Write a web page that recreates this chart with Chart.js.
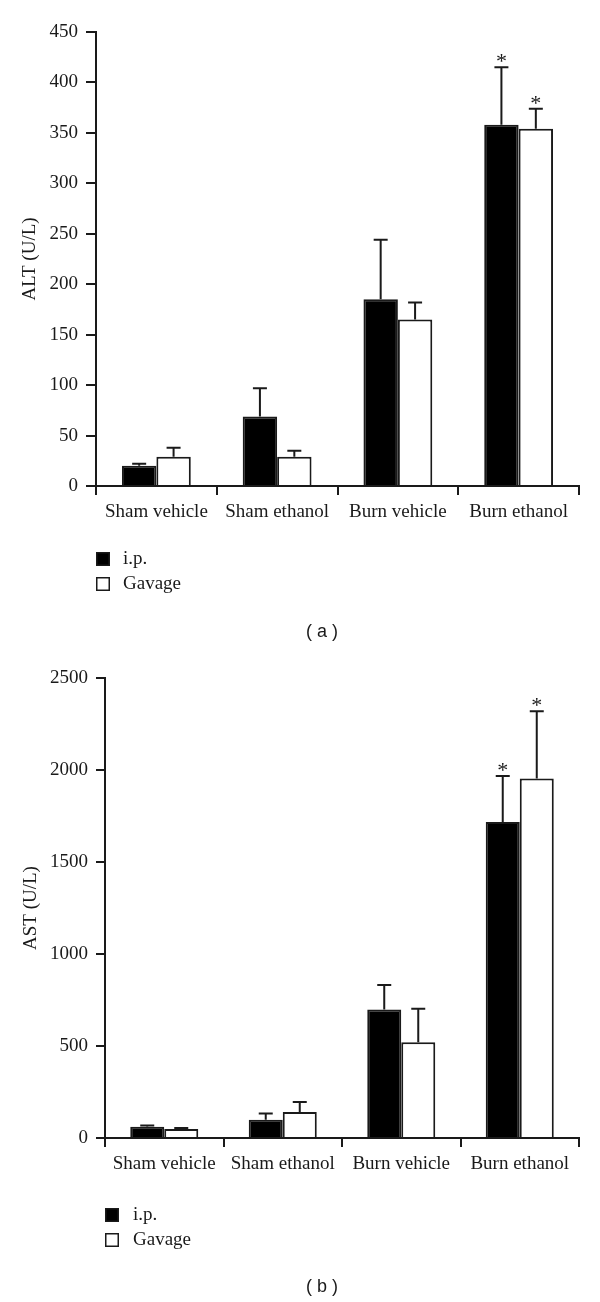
<!DOCTYPE html>
<html lang="en">
<head>
  <meta charset="UTF-8" />
  <title>ALT / AST</title>
  <script src="https://cdn.jsdelivr.net/npm/chart.js"></script>
  <style>
    body {
      margin: 0;
      background: #fff;
    }

    .painel {
      position: absolute;
      left: 0;
      width: 600px;
    }

    #painelA { top: 0; height: 650px; }
    #painelB { top: 650px; height: 652px; }
  </style>
</head>
<body>
  <div class="painel" id="painelA"><canvas id="graficoALT" width="600" height="650"></canvas></div>
  <div class="painel" id="painelB"><canvas id="graficoAST" width="600" height="652"></canvas></div>

  <script>
    const grupos = ["Sham vehicle", "Sham ethanol", "Burn vehicle", "Burn ethanol"];
    const series = ["i.p.", "Gavage"];

    // (a) ALT
    const altIp = [20, 69, 185, 358];
    const altIpErro = [2, 28, 59, 57];
    const altIpEstrela = [0, 0, 0, 1];
    const altGavage = [29, 29, 165, 354];
    const altGavageErro = [9, 6, 17, 20];
    const altGavageEstrela = [0, 0, 0, 1];
    const altTicks = [0, 50, 100, 150, 200, 250, 300, 350, 400, 450];

    // (b) AST
    const astIp = [61, 99, 698, 1717];
    const astIpErro = [7, 34, 134, 250];
    const astIpEstrela = [0, 0, 0, 1];
    const astGavage = [49, 141, 521, 1954];
    const astGavageErro = [5, 54, 181, 365];
    const astGavageEstrela = [0, 0, 0, 1];
    const astTicks = [0, 500, 1000, 1500, 2000, 2500];

    const preto = "#1a1a1a";
    const serif = "'Liberation Serif', 'Times New Roman', serif";
    Chart.defaults.font.family = serif;
    Chart.defaults.color = preto;

    // barras de erro, asteriscos, legenda vertical e letra do painel
    const extras = {
      id: "extras",
      afterDatasetsDraw(chart, args, opts) {
        const ctx = chart.ctx;
        const escala = chart.scales.y;
        ctx.save();
        ctx.strokeStyle = preto;
        ctx.fillStyle = preto;
        ctx.lineWidth = 2;
        ctx.font = "22px " + serif;
        ctx.textAlign = "center";
        ctx.textBaseline = "alphabetic";
        chart.data.datasets.forEach((ds, i) => {
          chart.getDatasetMeta(i).data.forEach((barra, j) => {
            const topo = escala.getPixelForValue(ds.data[j] + opts.erros[i][j]);
            ctx.beginPath();
            ctx.moveTo(barra.x, barra.y);
            ctx.lineTo(barra.x, topo);
            ctx.moveTo(barra.x - 7, topo);
            ctx.lineTo(barra.x + 7, topo);
            ctx.stroke();
            if (opts.estrelas[i][j]) ctx.fillText("*", barra.x, topo + 1);
          });
        });
        ctx.restore();
      },
      afterDraw(chart, args, opts) {
        const ctx = chart.ctx;
        const leg = opts.legenda;
        ctx.save();
        ctx.lineWidth = 1.5;
        ctx.strokeStyle = preto;
        ctx.font = "19px " + serif;
        ctx.textAlign = "left";
        ctx.textBaseline = "alphabetic";
        chart.data.datasets.forEach((ds, i) => {
          const y = leg.y + i * leg.passo;
          ctx.fillStyle = ds.backgroundColor;
          ctx.fillRect(leg.x, y, 14, 14);
          ctx.strokeRect(leg.x + 0.75, y + 0.75, 12.5, 12.5);
          ctx.fillStyle = preto;
          ctx.fillText(ds.label, leg.x + leg.texto, y + 12);
        });
        ctx.font = "18px 'Liberation Sans', Arial, sans-serif";
        ctx.textAlign = "center";
        ctx.textBaseline = "middle";
        ctx.fillText(opts.letra.texto, opts.letra.x, opts.letra.y);
        ctx.restore();
      }
    };

    function montarGrafico(id, dados, cfg) {
      return new Chart(document.getElementById(id), {
        type: "bar",
        data: {
          labels: grupos,
          datasets: [
            {
              label: series[0],
              data: dados.ip,
              backgroundColor: "#000000",
              borderColor: preto,
              borderWidth: 2,
              categoryPercentage: cfg.categoria,
              barPercentage: 1
            },
            {
              label: series[1],
              data: dados.gavage,
              backgroundColor: "#ffffff",
              borderColor: preto,
              borderWidth: 2,
              categoryPercentage: cfg.categoria,
              barPercentage: 1
            }
          ]
        },
        options: {
          responsive: false,
          animation: false,
          devicePixelRatio: 1,
          layout: { padding: cfg.padding },
          plugins: {
            legend: { display: false },
            tooltip: { enabled: false },
            extras: {
              erros: [dados.ipErro, dados.gavageErro],
              estrelas: [dados.ipEstrela, dados.gavageEstrela],
              legenda: cfg.legenda,
              letra: cfg.letra
            }
          },
          scales: {
            x: {
              offset: true,
              afterFit: escala => { escala.height = 40; },
              grid: {
                offset: true,
                drawOnChartArea: false,
                drawTicks: true,
                tickLength: 9,
                lineWidth: 2,
                color: preto
              },
              border: { display: true, width: 2, color: preto },
              ticks: {
                font: { size: 19 },
                color: preto,
                padding: 6,
                autoSkip: false,
                maxRotation: 0
              }
            },
            y: {
              min: 0,
              max: dados.ticks[dados.ticks.length - 1],
              afterFit: escala => { escala.width = cfg.larguraY; },
              afterBuildTicks: escala => {
                escala.ticks = dados.ticks.map(v => ({ value: v }));
              },
              grid: {
                drawOnChartArea: false,
                drawTicks: true,
                tickLength: cfg.tickY,
                lineWidth: 2,
                color: preto
              },
              border: { display: true, width: 2, color: preto },
              ticks: {
                font: { size: 19 },
                color: preto,
                padding: 8,
                callback: v => String(v)
              },
              title: {
                display: true,
                text: cfg.titulo,
                font: { size: 19 },
                color: preto,
                padding: { top: cfg.tituloPad, bottom: 0 }
              }
            }
          }
        },
        plugins: [extras]
      });
    }

    montarGrafico("graficoALT", {
      ip: altIp, ipErro: altIpErro, ipEstrela: altIpEstrela,
      gavage: altGavage, gavageErro: altGavageErro, gavageEstrela: altGavageEstrela,
      ticks: altTicks
    }, {
      titulo: "ALT (U/L)",
      tituloPad: 19,
      larguraY: 96,
      tickY: 10,
      categoria: 0.57,
      padding: { left: 0, top: 32, right: 21, bottom: 124 },
      legenda: { x: 96, y: 552, passo: 25, texto: 27 },
      letra: { texto: "( a )", x: 322, y: 632 }
    });

    montarGrafico("graficoAST", {
      ip: astIp, ipErro: astIpErro, ipEstrela: astIpEstrela,
      gavage: astGavage, gavageErro: astGavageErro, gavageEstrela: astGavageEstrela,
      ticks: astTicks
    }, {
      titulo: "AST (U/L)",
      tituloPad: 20,
      larguraY: 105,
      tickY: 9,
      categoria: 0.574,
      padding: { left: 0, top: 28, right: 21, bottom: 124 },
      legenda: { x: 105, y: 558, passo: 25, texto: 28 },
      letra: { texto: "( b )", x: 322, y: 637 }
    });
  </script>
</body>
</html>
